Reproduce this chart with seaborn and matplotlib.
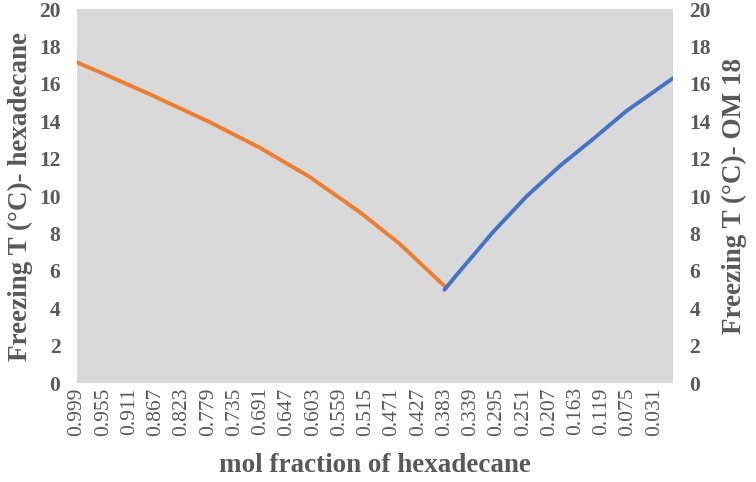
import numpy as np
import pandas as pd
import matplotlib
matplotlib.use("Agg")
import matplotlib.pyplot as plt
import seaborn as sns

# Data
hexa_x = [0.999, 0.955, 0.877, 0.776, 0.692, 0.609, 0.525, 0.458, 0.383]
hexa_T = [17.15, 16.55, 15.45, 13.95, 12.58, 11.03, 9.15, 7.45, 5.2]
om_x = [0.383, 0.357, 0.301, 0.245, 0.190, 0.134, 0.078, 0.000]
om_T = [5.0, 6.0, 8.1, 10.0, 11.6, 13.05, 14.55, 16.3]
tick_labels = ["0.999", "0.955", "0.911", "0.867", "0.823", "0.779", "0.735",
               "0.691", "0.647", "0.603", "0.559", "0.515", "0.471", "0.427",
               "0.383", "0.339", "0.295", "0.251", "0.207", "0.163", "0.119",
               "0.075", "0.031"]
y_ticks = list(range(0, 21, 2))

sns.set_theme(style="white")
plt.rcParams['font.family'] = ['Liberation Serif', 'DejaVu Serif']

TXT = "#595959"
fig = plt.figure(figsize=(7.56, 4.82), dpi=100)
ax = fig.add_axes([0.102, 0.205, 0.788, 0.776])
ax.set_facecolor("#d9d9d9")

df1 = pd.DataFrame({"x": hexa_x, "T": hexa_T})
df2 = pd.DataFrame({"x": om_x, "T": om_T})

sns.lineplot(data=df1, x="x", y="T", ax=ax, color="#ED7D31", lw=2.8,
             sort=False, estimator=None)
ax2 = ax.twinx()
sns.lineplot(data=df2, x="x", y="T", ax=ax2, color="#4472C4", lw=2.8,
             sort=False, estimator=None)

for a in (ax, ax2):
    a.set_xlim(0.999, 0.000)
    a.set_ylim(0, 20)
    a.set_yticks(y_ticks)
    a.set_yticklabels([str(v) for v in y_ticks], fontsize=15.5,
                      fontweight="bold", color=TXT)
    for s in a.spines.values():
        s.set_visible(False)
    a.tick_params(axis="both", length=0)

ax.set_xticks([float(t) for t in tick_labels])
ax.set_xticklabels(tick_labels, rotation=90, fontsize=15.5, color=TXT)
ax.tick_params(axis="x", pad=3)
ax.tick_params(axis="y", pad=12)
ax2.tick_params(axis="y", pad=12)

ax.set_xlabel("mol fraction of hexadecane", fontsize=19.5, fontweight="bold",
              color=TXT, labelpad=12)
ax.set_ylabel("Freezing T (°C)- hexadecane", fontsize=19.5, fontweight="bold",
              color=TXT, labelpad=4)
ax2.set_ylabel("Freezing T (°C)- OM 18", fontsize=19.5, fontweight="bold",
               color=TXT, labelpad=8)

fig.savefig("out.png", dpi=100)
